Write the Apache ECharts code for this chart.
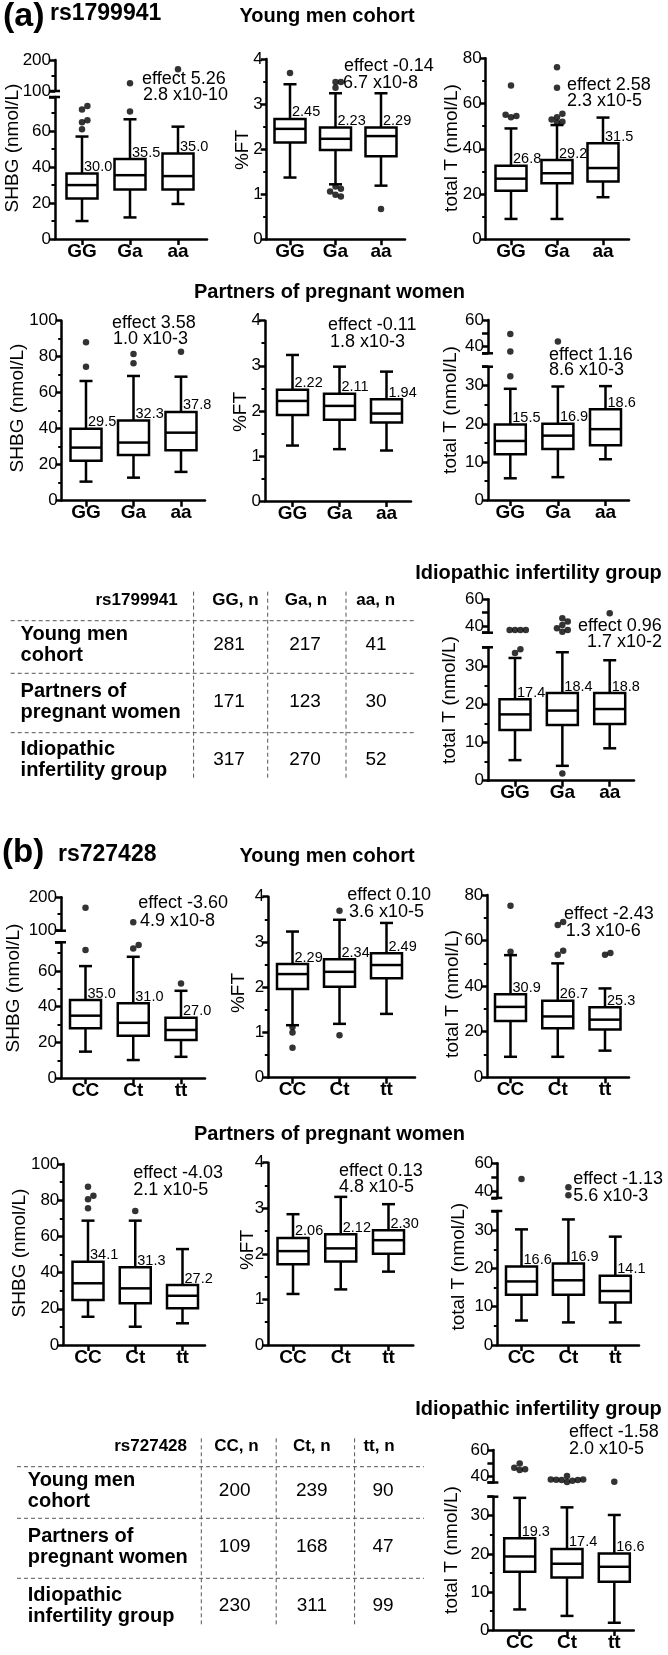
<!DOCTYPE html>
<html><head><meta charset="utf-8">
<script src="https://cdn.jsdelivr.net/npm/echarts@6/dist/echarts.min.js"></script>
<style>html,body{margin:0;padding:0;background:#fff}#c{width:668px;height:1655px}</style>
</head><body><div id="c"></div>
<script>
// ================= DATA =================
const genoA = ['GG','Ga','aa'];
const genoB = ['CC','Ct','tt'];
const snpA = 'rs1799941';
const snpB = 'rs727428';
const cohortTitles = ['Young men cohort','Partners of pregnant women','Idiopathic infertility group'];
const tableRowLabels = [['Young men','cohort'],['Partners of','pregnant women'],['Idiopathic','infertility group']];
const countsA = [[281,217,41],[171,123,30],[317,270,52]];
const countsB = [[200,239,90],[109,168,47],[230,311,99]];
const effectA = [5.26,-0.14,2.58,3.58,-0.11,1.16,0.96];
const pA = ['2.8 x10-10','6.7 x10-8','2.3 x10-5','1.0 x10-3','1.8 x10-3','8.6 x10-3','1.7 x10-2'];
const effectB = [-3.60,0.10,-2.43,-4.03,0.13,-1.13,-1.58];
const pB = ['4.9 x10-8','3.6 x10-5','1.3 x10-6','2.1 x10-5','4.8 x10-5','5.6 x10-3','2.0 x10-5'];
// box stats per genotype: [min, Q1, median, Q3, max]; outliers per genotype
const shbgYoungA_box = [[10,22.5,30.0,36.5,57],[12,27.6,35.5,44.5,66.6],[19.5,27.6,35.0,47.5,62.5]];
const shbgYoungA_out = [[61,65,66,72,74],[71,125],[170]];
const ftYoungA_box = [[1.37,2.15,2.45,2.67,3.44],[1.22,1.98,2.23,2.48,3.24],[1.19,1.84,2.29,2.48,3.24]];
const ftYoungA_out = [[3.69],[3.49,3.49,3.36,1.17,1.12,1.06,0.99,0.95],[0.67]];
const ttYoungA_box = [[9,21.5,26.8,32.5,49],[9,24.8,29.2,35,50.5],[18.6,25.5,31.5,42.5,53.8]];
const ttYoungA_out = [[54,54.5,55,68],[51.5,52,53,54,55.5,67,76],[]];
const shbgPartA_box = [[10.6,22.2,29.5,40,66.5],[12.8,25.4,32.3,44.6,69.3],[16,28,37.8,49.3,68.9]];
const shbgPartA_out = [[74.4,88],[76.3,81.5],[82.8]];
const ftPartA_box = [[1.23,1.91,2.22,2.47,3.24],[1.15,1.80,2.11,2.38,2.98],[1.12,1.74,1.94,2.26,2.87]];
const ftPartA_out = [[],[],[]];
const ttPartA_box = [[5.7,12,15.5,19.8,29.2],[6,13.4,16.9,20,29.8],[10.7,14.4,18.6,23.8,29.9]];
const ttPartA_out = [[32.5,36.3,49.5],[43.8],[]];
const ttInfA_box = [[5.4,13.3,17.4,21.4,32.2],[3.9,14.6,18.4,23,33.7],[8.5,14.9,18.8,23,31.6]];
const ttInfA_out = [[33.5,34.5,37,37,37,37],[1.9,35.8,37,38.3,40.8,43.3,45.8],[49.5]];
const shbgYoungB_box = [[14.9,27.9,35.0,43.7,62.7],[10.2,23.8,31.0,41.9,67.9],[12,21.4,27.0,33.9,48.9]];
const shbgYoungB_out = [[71.7,169],[72.6,74.5,125],[53]];
const ftYoungB_box = [[1.16,1.96,2.29,2.51,3.23],[1.19,2.01,2.34,2.62,3.49],[1.41,2.2,2.49,2.75,3.42]];
const ftYoungB_out = [[1.12,1.0,0.66],[3.69,0.94],[]];
const ttYoungB_box = [[9,24.7,30.9,36.5,53.6],[9,21.5,26.7,33.6,50],[11.7,21,25.3,30.7,39]];
const ttYoungB_out = [[55.1,75.3],[53.8,55.5,66.8,68.2],[53.8,54.5]];
const shbgPartB_box = [[15.6,24.9,34.1,46,68.7],[10.1,23,31.3,43,68.7],[12,20.3,27.2,33.1,53]];
const shbgPartB_out = [[75.5,80.5,82.5,87.5],[74],[]];
const ftPartB_box = [[1.12,1.77,2.06,2.35,2.87],[1.22,1.83,2.12,2.43,3.25],[1.61,2.0,2.30,2.52,3.09]];
const ftPartB_out = [[],[],[]];
const ttPartB_box = [[6.4,13.1,16.6,20.5,30.2],[5.9,13.1,16.9,21.3,32.8],[5.9,11.1,14.1,18.1,28.3]];
const ttPartB_out = [[48.7],[37,42.7],[]];
const ttInfB_box = [[5.4,15.3,19.3,24.1,34.7],[3.7,13.8,17.4,21.3,32.2],[1.9,12.7,16.6,20.1,30.2]];
const ttInfB_out = [[44.6,45.1,46.4,49.7],[35.4,36.4,36.9,36.9,37.2,37.4,37.4,40],[35.6]];
const shbgLabels = [0,20,40,60], ftLabels = [0,1,2,3,4], tt80Labels = [0,20,40,60,80], shbg100Labels = [0,20,40,60,80,100];
const ttLowLabels = [0,10,20,30], ttUpLabels = [40,60], shbgUpLabels = [100,200];

// ================= LAYOUT =================
const FONT = '"Liberation Sans", Arial, Helvetica, sans-serif';
const LW = 2.5;
const T1 = 'SHBG (nmol/L)', T2 = '%FT', T3 = 'total T (nmol/L)';
const ttUpper = (yBot, yTop) => ({min:35, max:60, yBot, yTop, labels:ttUpLabels, ticks:[35,40,50,60]});
const panels = [
 {cats:genoA, box:shbgYoungA_box, out:shbgYoungA_out, dec:1, yTitle:T1, eff:effectA[0], p:pA[0],
  X0:55, X1:207, c1:82, c3:178,
  lower:{max:79, y0:239, yTop:97, interval:20, labels:shbgLabels, ticks:[0,20,40,60,79]},
  upper:{min:100, max:200, yBot:91, yTop:60, interval:100, labels:shbgUpLabels, ticks:[100,200]},
  ann:[142,79,143,95.5], yt:[12.5,148]},
 {cats:genoA, box:ftYoungA_box, out:ftYoungA_out, dec:2, yTitle:T2, eff:effectA[1], p:pA[1],
  X0:266.7, X1:405, c1:290, c3:381,
  lower:{max:4, y0:239.3, yTop:59, interval:1, labels:ftLabels, ticks:ftLabels},
  ann:[344,66,343,83], yt:[242.5,150]},
 {cats:genoA, box:ttYoungA_box, out:ttYoungA_out, dec:1, yTitle:T3, eff:effectA[2], p:pA[2],
  X0:485.7, X1:629, c1:511, c3:603,
  lower:{max:80, y0:239.3, yTop:58.3, interval:20, labels:tt80Labels, ticks:tt80Labels},
  ann:[567,85,567,101.5], yt:[452,148]},
 {cats:genoA, box:shbgPartA_box, out:shbgPartA_out, dec:1, yTitle:T1, eff:effectA[3], p:pA[3],
  X0:61.7, X1:205, c1:86, c3:181,
  lower:{max:100, y0:500.7, yTop:320.7, interval:20, labels:shbg100Labels, ticks:shbg100Labels},
  ann:[112,322.7,113,339.3], yt:[18,408]},
 {cats:genoA, box:ftPartA_box, out:ftPartA_out, dec:2, yTitle:T2, eff:effectA[4], p:pA[4],
  X0:265, X1:411, c1:292.5, c3:386.5,
  lower:{max:4, y0:501, yTop:320.7, interval:1, labels:ftLabels, ticks:ftLabels},
  ann:[328,325,330,342], yt:[240.7,412]},
 {cats:genoA, box:ttPartA_box, out:ttPartA_out, dec:1, yTitle:T3, eff:effectA[5], p:pA[5],
  X0:488, X1:629, c1:510.3, c3:605.5,
  lower:{max:35, y0:500, yTop:366.7, interval:10, labels:ttLowLabels, ticks:[0,10,20,30,35]},
  upper:ttUpper(353.3,320),
  ann:[549,355,549,370.5], yt:[450.7,410]},
 {cats:genoA, box:ttInfA_box, out:ttInfA_out, dec:1, yTitle:T3, eff:effectA[6], p:pA[6],
  X0:488, X1:634, c1:515, c3:609.7,
  lower:{max:35, y0:780.7, yTop:647.3, interval:10, labels:ttLowLabels, ticks:[0,10,20,30,35]},
  upper:ttUpper(632.7,599.3),
  ann:[578,626,587,641.7], yt:[449.7,700]},
 {cats:genoB, box:shbgYoungB_box, out:shbgYoungB_out, dec:1, yTitle:T1, eff:effectB[0], p:pB[0],
  X0:61, X1:205, c1:85.5, c3:181,
  lower:{max:76, y0:1078.3, yTop:942.3, interval:20, labels:shbgLabels, ticks:[0,20,40,60,76]},
  upper:{min:100, max:200, yBot:930.7, yTop:897.3, interval:100, labels:shbgUpLabels, ticks:[100,200]},
  ann:[138.3,903.3,140,920.7], yt:[13.3,988]},
 {cats:genoB, box:ftYoungB_box, out:ftYoungB_out, dec:2, yTitle:T2, eff:effectB[1], p:pB[1],
  X0:268.3, X1:415, c1:292.5, c3:386.5,
  lower:{max:4, y0:1077.7, yTop:896.7, interval:1, labels:ftLabels, ticks:ftLabels},
  ann:[347.3,895,349,911.7], yt:[238.7,993]},
 {cats:genoB, box:ttYoungB_box, out:ttYoungB_out, dec:1, yTitle:T3, eff:effectB[2], p:pB[2],
  X0:487.3, X1:629, c1:510.5, c3:605,
  lower:{max:80, y0:1077.3, yTop:895, interval:20, labels:tt80Labels, ticks:tt80Labels},
  ann:[564,914,565.7,930.7], yt:[452.3,994]},
 {cats:genoB, box:shbgPartB_box, out:shbgPartB_out, dec:1, yTitle:T1, eff:effectB[3], p:pB[3],
  X0:63.3, X1:205, c1:88, c3:182.5,
  lower:{max:100, y0:1345, yTop:1164, interval:20, labels:shbg100Labels, ticks:shbg100Labels},
  ann:[133.3,1172.7,133.3,1190], yt:[20,1253]},
 {cats:genoB, box:ftPartB_box, out:ftPartB_out, dec:2, yTitle:T2, eff:effectB[4], p:pB[4],
  X0:268.3, X1:413.3, c1:293, c3:388.5,
  lower:{max:4, y0:1345, yTop:1162.7, interval:1, labels:ftLabels, ticks:ftLabels},
  ann:[339,1170.7,339,1187.3], yt:[247.5,1250]},
 {cats:genoB, box:ttPartB_box, out:ttPartB_out, dec:1, yTitle:T3, eff:effectB[5], p:pB[5],
  X0:497.3, X1:639, c1:521.5, c3:615.3,
  lower:{max:35, y0:1345, yTop:1211, interval:10, labels:ttLowLabels, ticks:[0,10,20,30,35]},
  upper:ttUpper(1197.9,1163.3),
  ann:[573.3,1179.3,573.3,1196], yt:[459,1266.7]},
 {cats:genoB, box:ttInfB_box, out:ttInfB_out, dec:1, yTitle:T3, eff:effectB[6], p:pB[6],
  X0:493.4, X1:633.8, c1:519.7, c3:614.3,
  lower:{max:35, y0:1630, yTop:1496.7, interval:10, labels:ttLowLabels, ticks:[0,10,20,30,35]},
  upper:ttUpper(1482.5,1450),
  ann:[569,1431.7,569,1449.3], yt:[451.8,1550]}
];

const grids=[], xAxes=[], yAxes=[], series=[], graphics=[];

function T(text, x, y, size, o) {
  o = o || {};
  const al = o.align || 'left';
  graphics.push({type:'text', x:x, y:y, rotation:o.rot||0, silent:true, z:100,
    style:{text:text, fill:'#000', font:(o.bold?'bold ':'')+size+'px '+FONT,
      textAlign:al, align:al, textVerticalAlign:'middle', verticalAlign:'middle'}});
}
function L(x1,y1,x2,y2) {
  graphics.push({type:'line', silent:true, z:90, shape:{x1:x1,y1:y1,x2:x2,y2:y2},
    style:{stroke:'#555', lineWidth:1, lineDash:[4,3]}});
}
function cap(x, y) {
  graphics.push({type:'line', silent:true, z:90, shape:{x1:x-6, y1:y, x2:x+5, y2:y},
    style:{stroke:'#000', lineWidth:LW}});
}

function boxRender(dec) {
  return function(params, api) {
    const x = api.value(0);
    const v = [api.value(1),api.value(2),api.value(3),api.value(4),api.value(5)];
    const p = v.map(function(val){ return api.coord([x, val]); });
    const cx = p[0][0], hw = 15.5, cw = 6.5;
    const st = {stroke:'#000', lineWidth:LW, fill:null};
    return {type:'group', children:[
      {type:'line', shape:{x1:cx,y1:p[4][1],x2:cx,y2:p[3][1]}, style:st},
      {type:'line', shape:{x1:cx,y1:p[1][1],x2:cx,y2:p[0][1]}, style:st},
      {type:'line', shape:{x1:cx-cw,y1:p[4][1],x2:cx+cw,y2:p[4][1]}, style:st},
      {type:'line', shape:{x1:cx-cw,y1:p[0][1],x2:cx+cw,y2:p[0][1]}, style:st},
      {type:'rect', shape:{x:cx-hw,y:p[3][1],width:2*hw,height:p[1][1]-p[3][1]}, style:{stroke:'#000',lineWidth:LW,fill:'#fff'}},
      {type:'line', shape:{x1:cx-hw,y1:p[2][1],x2:cx+hw,y2:p[2][1]}, style:st},
      {type:'text', style:{text:v[2].toFixed(dec), x:cx+2, y:p[3][1]+1, fill:'#000',
        font:'14.5px '+FONT, textAlign:'left', align:'left', textVerticalAlign:'bottom', verticalAlign:'bottom'}}
    ]};
  };
}

function yAxisDef(gi, seg, isUpper) {
  const y = {gridIndex:gi, type:'value', min:isUpper?seg.min:0, max:seg.max,
    axisLine:{show:true, onZero:false, lineStyle:{color:'#000', width:LW}},
    axisTick:{show:true, customValues:seg.ticks, length:6, lineStyle:{color:'#000', width:LW}},
    axisLabel:{show:true, customValues:seg.labels, fontSize:17, color:'#000', margin:4, fontFamily:FONT},
    splitLine:{show:false}, minorSplitLine:{show:false}};
  if (seg.interval) {
    y.interval = seg.interval;
    y.minorTick = {show:true, splitNumber:2, length:3.5, lineStyle:{color:'#000', width:2}};
  }
  return y;
}

panels.forEach(function(P){
  const s = (P.c3 - P.c1) / 2;
  const xmin = 1 - (P.c1 - P.X0) / s, xmax = 3 + (P.X1 - P.c3) / s;
  const gi = grids.length;
  grids.push({left:P.X0, top:P.lower.yTop, width:P.X1-P.X0, height:P.lower.y0-P.lower.yTop});
  const cats = P.cats;
  xAxes.push({gridIndex:gi, type:'value', min:xmin, max:xmax,
    axisLine:{show:true, onZero:false, lineStyle:{color:'#000', width:LW}},
    axisTick:{show:true, customValues:[1,2,3], length:6, lineStyle:{color:'#000', width:LW}},
    axisLabel:{show:true, customValues:[1,2,3], formatter:function(v){return cats[Math.round(v)-1];},
      fontSize:19, fontWeight:'bold', color:'#000', margin:3, fontFamily:FONT},
    splitLine:{show:false}});
  yAxes.push(yAxisDef(gi, P.lower, false));
  let gu = -1;
  if (P.upper) {
    gu = grids.length;
    grids.push({left:P.X0, top:P.upper.yTop, width:P.X1-P.X0, height:P.upper.yBot-P.upper.yTop});
    xAxes.push({gridIndex:gu, type:'value', min:xmin, max:xmax, show:false});
    yAxes.push(yAxisDef(gu, P.upper, true));
    cap(P.X0, P.lower.yTop);
    cap(P.X0, P.upper.yBot);
  }
  series.push({type:'custom', xAxisIndex:gi, yAxisIndex:gi, silent:true, clip:false, z:2,
    encode:{x:0, y:[1,2,3,4,5]},
    data:P.box.map(function(b,i){return [i+1].concat(b);}), renderItem:boxRender(P.dec)});
  // outliers, spread side by side where they would overlap (beeswarm)
  const lowPpu = (P.lower.y0 - P.lower.yTop) / P.lower.max;
  const upPpu = P.upper ? (P.upper.yBot - P.upper.yTop) / (P.upper.max - P.upper.min) : 0;
  const lowPts = [], upPts = [];
  P.out.forEach(function(vals, ci){
    const placed = [];
    vals.forEach(function(v){
      const isUp = P.upper && v > P.lower.max;
      const py = isUp ? P.upper.yBot - (v - P.upper.min) * upPpu : P.lower.y0 - v * lowPpu;
      const d = 5.4;
      let dx = 0;
      for (let k = 0; k < 20; k++) {
        const cand = (k % 2 === 1 ? 1 : -1) * Math.ceil(k / 2) * d;
        const ok = placed.every(function(q){ return Math.hypot(q[0]-cand, q[1]-py) >= d; });
        if (ok) { dx = cand; break; }
      }
      placed.push([dx, py]);
      (isUp ? upPts : lowPts).push([ci + 1 + dx / s, v]);
    });
  });
  const sc = {type:'scatter', symbol:'circle', symbolSize:6.5, itemStyle:{color:'#000'}, silent:true, z:3, clip:false};
  series.push(Object.assign({}, sc, {xAxisIndex:gi, yAxisIndex:gi, data:lowPts}));
  if (gu >= 0) series.push(Object.assign({}, sc, {xAxisIndex:gu, yAxisIndex:gu, data:upPts}));
  // annotations and axis titles
  T('effect ' + P.eff.toFixed(2), P.ann[0], P.ann[1], 18);
  T(P.p, P.ann[2], P.ann[3], 18);
  T(P.yTitle, P.yt[0], P.yt[1], 19, {align:'center', rot:Math.PI/2});
});

// headings
T('(a)', 3, 17, 34, {bold:true});
T(snpA, 50, 14, 23, {bold:true});
T(cohortTitles[0], 327, 16, 20, {bold:true, align:'center'});
T(cohortTitles[1], 329.5, 292, 20, {bold:true, align:'center'});
T(cohortTitles[2], 538.5, 573, 20, {bold:true, align:'center'});
T('(b)', 2, 853, 33, {bold:true});
T(snpB, 58, 855, 23, {bold:true});
T(cohortTitles[0], 327, 856, 20, {bold:true, align:'center'});
T(cohortTitles[1], 329.5, 1134, 20, {bold:true, align:'center'});
T(cohortTitles[2], 538.5, 1409, 20, {bold:true, align:'center'});

// tables
function table(snp, cats, counts, g) {
  T(snp, g.snpX, g.hy, 17, {bold:true, align:'right'});
  cats.forEach(function(c,i){ T(c + ', n', g.hx[i], g.hy, 17, {bold:true, align:'center'}); });
  g.hl.forEach(function(y){ L(g.hx0, y, g.hx1, y); });
  g.vl.forEach(function(x){ L(x, g.vy0, x, g.vy1); });
  tableRowLabels.forEach(function(lines, r){
    T(lines[0], g.lx, g.ry[r] - 10.5, 20, {bold:true});
    T(lines[1], g.lx, g.ry[r] + 10.5, 20, {bold:true});
    counts[r].forEach(function(n, j){ T(String(n), g.nx[j], g.ry[r], 19, {align:'center'}); });
  });
}
table(snpA, genoA, countsA, {snpX:177.7, hy:600.7, hx:[235.5,306,375.7], hl:[620.7,673.3,732.7], hx0:10.7, hx1:415.4,
  vl:[193.6,267.7,346], vy0:591.7, vy1:780, lx:20.6, ry:[645,701.5,759.5], nx:[229,305,376]});
table(snpB, genoB, countsB, {snpX:187, hy:1446.7, hx:[236.4,311.8,379], hl:[1466.7,1518.3,1578.3], hx0:17, hx1:424,
  vl:[201.3,276.2,354.6], vy0:1438.3, vy1:1625, lx:27.8, ry:[1490.5,1546.5,1605.8], nx:[234.7,311.8,383]});

const chart = echarts.init(document.getElementById('c'), null, {renderer:'canvas'});
chart.setOption({
  animation:false, backgroundColor:'#fff', textStyle:{fontFamily:FONT},
  grid:grids, xAxis:xAxes, yAxis:yAxes, series:series,
  graphic:{elements:graphics}
});
</script></body></html>
